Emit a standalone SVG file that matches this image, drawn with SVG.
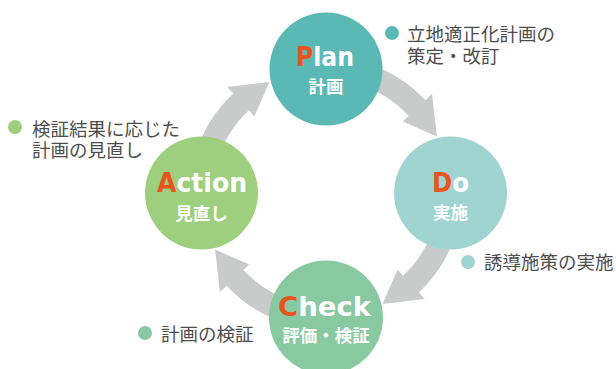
<svg xmlns="http://www.w3.org/2000/svg" xmlns:xlink="http://www.w3.org/1999/xlink" width="616" height="369" viewBox="0 0 616 369">
<style>
.en{font-family:"DejaVu Sans","Liberation Sans",sans-serif;font-weight:bold;font-size:26px;fill:#ffffff}
.en .h{fill:#e8541e}
.jp{font-family:"Noto Sans CJK JP","Noto Sans",sans-serif;font-weight:bold;font-size:17.5px;fill:#ffffff;text-anchor:middle}
.lb{font-family:"Noto Sans CJK JP","Noto Sans",sans-serif;font-size:18.5px;fill:#4d4d4d}
.arrow{fill:#c9caca}
</style>
<defs>
<path id="arr" class="arrow" d="M216.85 163.75 L194.63 157.80 A136 136 0 0 1 233.25 93.54 L227.11 86.95 L269.48 82.07 L254.39 116.21 L248.93 110.36 A113 113 0 0 0 216.85 163.75 Z"/>
</defs>
<rect width="616" height="369" fill="#ffffff"/>
<g id="connectors">
<use xlink:href="#arr"/>
<use xlink:href="#arr" transform="rotate(90 326 193)"/>
<use xlink:href="#arr" transform="rotate(180 326 193)"/>
<use xlink:href="#arr" transform="rotate(270 326 193)"/>
</g>
<g id="plan">
<circle cx="326" cy="69" r="56.5" fill="#5ab9b4"/>
<text class="en" x="296" y="66" textLength="58" lengthAdjust="spacingAndGlyphs"><tspan class="h">P</tspan>lan</text>
<text class="jp" x="326" y="93">計画</text>
</g>
<g id="do">
<circle cx="450.5" cy="193" r="56.5" fill="#9fd4d1"/>
<text class="en" x="432" y="192" textLength="37" lengthAdjust="spacingAndGlyphs"><tspan class="h">D</tspan>o</text>
<text class="jp" x="450.5" y="219">実施</text>
</g>
<g id="check">
<circle cx="326" cy="317.5" r="57" fill="#88c9a1"/>
<text class="en" x="278" y="316" textLength="93" lengthAdjust="spacingAndGlyphs"><tspan class="h">C</tspan>heck</text>
<text class="jp" x="326" y="342">評価・検証</text>
</g>
<g id="action">
<circle cx="201.5" cy="193" r="56.5" fill="#9dcf7f"/>
<text class="en" x="157" y="192" textLength="90" lengthAdjust="spacingAndGlyphs"><tspan class="h">A</tspan>ction</text>
<text class="jp" x="201.5" y="220">見直し</text>
</g>
<g id="plan-label">
<circle cx="392" cy="33" r="7" fill="#5ab9b4"/>
<text class="lb" x="407" y="41">立地適正化計画の</text>
<text class="lb" x="407" y="63">策定・改訂</text>
</g>
<g id="do-label">
<circle cx="468" cy="262" r="7" fill="#9fd4d1"/>
<text class="lb" x="484" y="269">誘導施策の実施</text>
</g>
<g id="check-label">
<circle cx="145" cy="333" r="7" fill="#88c9a1"/>
<text class="lb" x="161" y="341">計画の検証</text>
</g>
<g id="action-label">
<circle cx="15" cy="127" r="7" fill="#9dcf7f"/>
<text class="lb" x="32" y="136">検証結果に応じた</text>
<text class="lb" x="32" y="157">計画の見直し</text>
</g>
</svg>
